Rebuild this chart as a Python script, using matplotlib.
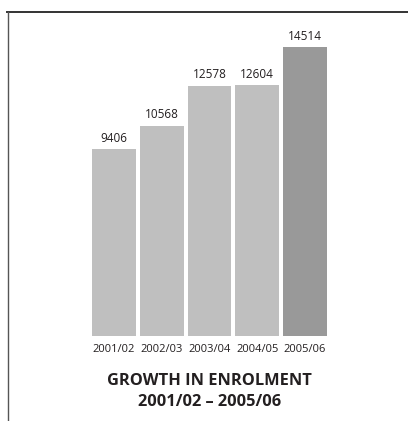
import matplotlib
matplotlib.use('agg')
import matplotlib.pyplot as plt
from matplotlib.lines import Line2D

years = ['2001/02', '2002/03', '2003/04', '2004/05', '2005/06']
enrolment = [9406, 10568, 12578, 12604, 14514]
bar_colors = ['#bfbfbf', '#bfbfbf', '#bfbfbf', '#bfbfbf', '#999999']
title = 'GROWTH IN ENROLMENT\n2001/02 \u2013 2005/06'

text_color = '#231f20'
plt.rcParams['font.family'] = ['Open Sans', 'DejaVu Sans']

W, H = 408, 421
fig = plt.figure(figsize=(W / 100, H / 100), dpi=100)

# axes placed in pixel terms: bars from x~90 to ~329, baseline at y=336
left, right = 90.1, 328.9
bottom_px, top_px = 336, 17.4
ax = fig.add_axes([left / W, (H - bottom_px) / H, (right - left) / W, (bottom_px - top_px) / H])

x = range(len(years))
bars = ax.bar(x, enrolment, width=0.92, color=bar_colors)
ax.set_xlim(-0.5, len(years) - 0.5)
ax.set_ylim(0, 16000)

for b, v in zip(bars, enrolment):
    ax.annotate(str(v), (b.get_x() + b.get_width() / 2, v), xytext=(0, 3),
                textcoords='offset points', ha='center', va='bottom',
                fontsize=8.5, color=text_color)

ax.set_xticks(list(x))
ax.set_xticklabels(years, fontsize=8, color=text_color)
ax.tick_params(axis='x', length=0, pad=5.5)
ax.set_yticks([])
for s in ax.spines.values():
    s.set_visible(False)

fig.text((left + right) / 2 / W, 1 - 391.5 / H, title, ha='center', va='center',
         fontsize=11.8, fontweight='bold', color=text_color, linespacing=1.45)

# frame lines: top and left
fig.add_artist(Line2D([7 / W, 1], [1 - 12 / H, 1 - 12 / H], color='#333333', lw=1.4))
fig.add_artist(Line2D([8 / W, 8 / W], [0, 1 - 12 / H], color='#555555', lw=1.0))

fig.savefig('out.png', dpi=100)
